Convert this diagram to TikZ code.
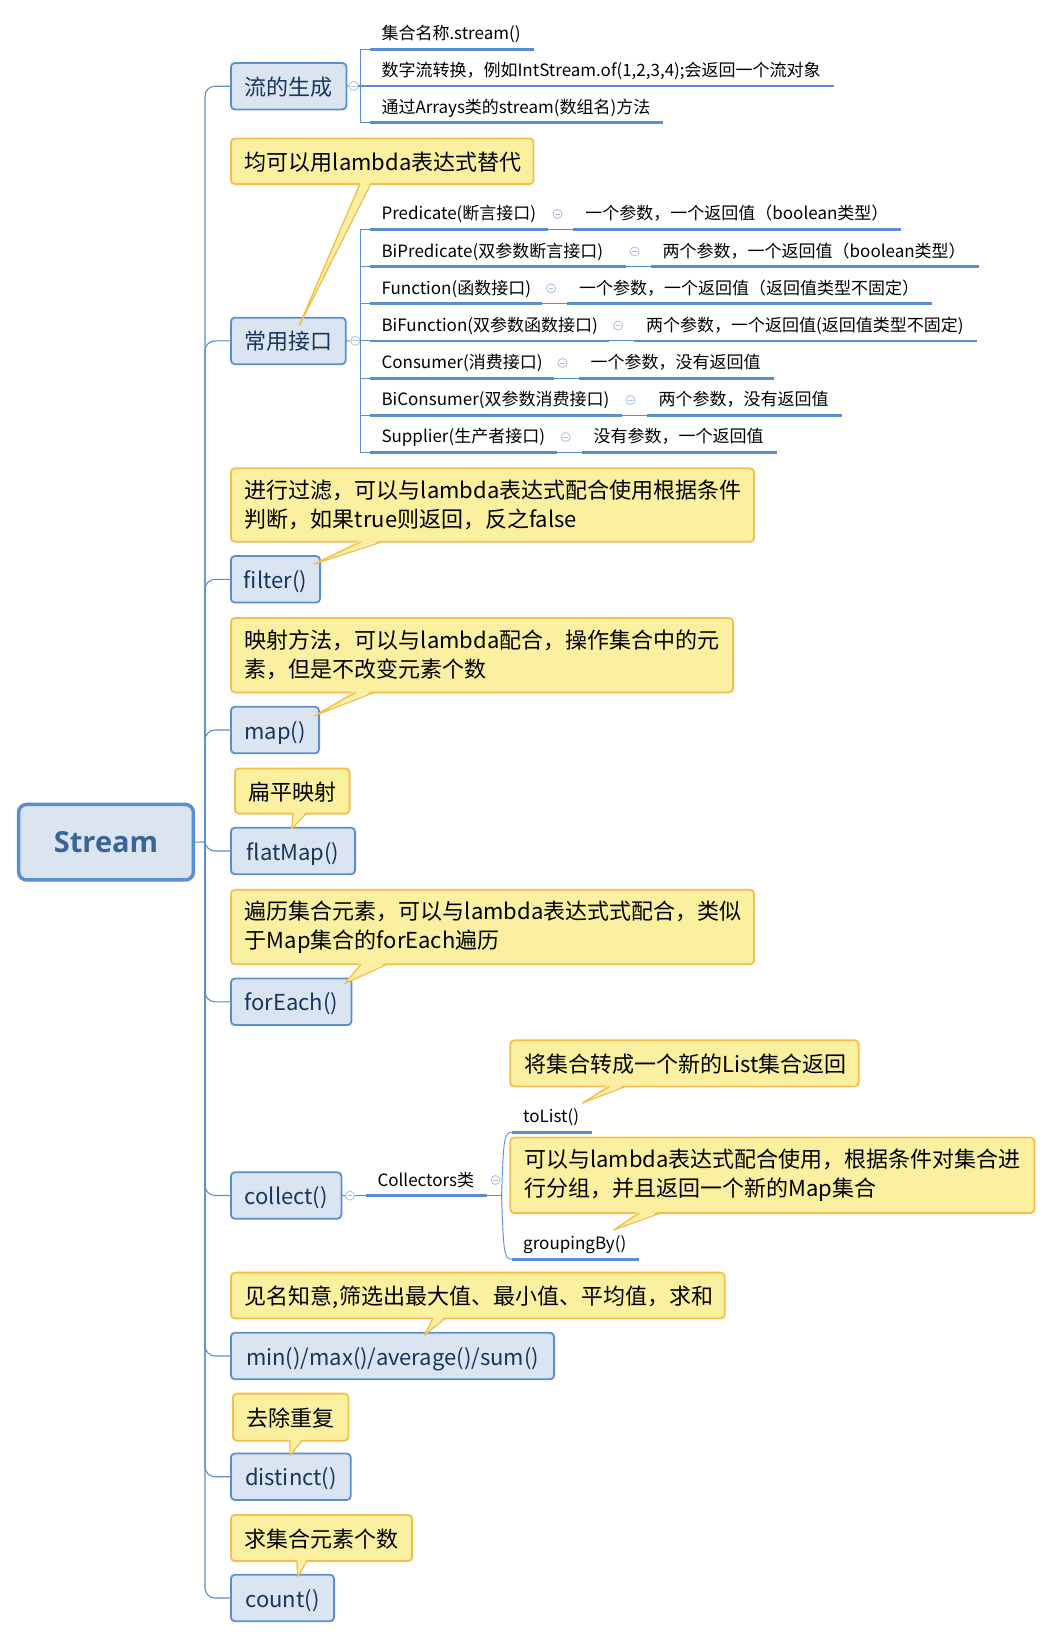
\documentclass[tikz,border=0pt]{standalone}
\usepackage{fontspec}
\setmainfont{Noto Sans CJK SC}
\newfontfamily\mmlat{Open Sans}
\usetikzlibrary{calc}
\definecolor{bxfill}{HTML}{DBE5F1}
\definecolor{bxdraw}{HTML}{5A8ED3}
\definecolor{bxtext}{HTML}{17365D}
\definecolor{cfill}{HTML}{FBF0A0}
\definecolor{cdraw}{HTML}{F2BE4E}
\definecolor{lncol}{HTML}{5A8ED3}
\definecolor{togcol}{HTML}{A9BDE3}
\definecolor{sttext}{HTML}{3A6396}
\newcommand\mmbig{\fontsize{22}{29.3}\selectfont}
\newcommand\mmsmall{\fontsize{17}{20}\selectfont}
\tikzset{
  box/.style={draw=bxdraw, fill=bxfill, line width=1.8pt, rounded corners=4pt, text=bxtext,
    font=\mmbig, anchor=west, minimum height=46.5pt, inner sep=0pt, outer sep=0pt,
    text height=20pt, text depth=2pt},
  callout/.style={draw=cdraw, fill=cfill, line width=1.8pt, rounded corners=4pt, text=black,
    font=\mmbig, anchor=north west, inner xsep=14pt, inner ysep=0pt, outer sep=0pt, align=left},
  onel/.style={text height=20pt, text depth=2pt},
  item/.style={anchor=base west, inner sep=0pt, outer sep=0pt, font=\mmsmall, text=black},
  uline/.style={draw=lncol, line width=2.6pt},
  conn/.style={draw=lncol, line width=1.1pt},
  tog/.style={circle, draw=togcol, fill=white, line width=0.8pt, minimum size=9pt, inner sep=0pt,
    path picture={\draw[togcol, line width=0.8pt] ([xshift=-2.3pt]path picture bounding box.center) -- ([xshift=2.3pt]path picture bounding box.center);}},
}
% one underlined item: name, underline start x, underline y, text
\newcommand\mmrow[4]{%
  \node[item] (#1) at (#2+11.5,#3-9.5) {#4};
  \coordinate (#1-s) at (#2,#3);
  \coordinate (#1-e) at ($(#1.base east)+(13,9.5)$);
  \draw[uline] (#1-s) -- (#1-e);
}
% interface row: name, underline y, toggle x, left text, right text
\newcommand\mmpair[5]{%
  \node[item] (#1a) at (381.5,#2-9.5) {#4};
  \coordinate (#1a-s) at (370,#2);
  \coordinate (#1a-e) at (#3-9,#2);
  \draw[uline] (#1a-s) -- (#1a-e);
  \node[tog] (#1t) at (#3,#2-15.3) {};
  \coordinate (#1b-s) at (#3+16,#2);
  \node[item] (#1b) at (#3+28,#2-9.5) {#5};
  \coordinate (#1b-e) at ($(#1b.base east)+(13,9.5)$);
  \draw[conn] (#1a-e) -- (#1b-s);
  \draw[uline] (#1b-s) -- (#1b-e);
}
% callout pointer: callout, base x1, base x2, target anchor, dx, dy
\newcommand\mmptr[6]{%
  \coordinate (#1-p1) at ($(#1.south west)+(#2,-2.2)$);
  \coordinate (#1-p2) at ($(#1.south west)+(#3,-2.2)$);
  \coordinate (#1-q1) at ($(#1.south west)+(#2,0)$);
  \coordinate (#1-q2) at ($(#1.south west)+(#3,0)$);
  \coordinate (#1-tip) at ($(#4)+(#5,#6)$);
  \fill[cfill] (#1-p1) -- (#1-tip) -- (#1-p2) -- cycle;
  \draw[cdraw, line width=1.3pt, line join=round, line cap=round] (#1-q1) -- (#1-tip) -- (#1-q2);
}
\begin{document}
\begin{tikzpicture}[x=1pt,y=-1pt]
\useasboundingbox (0,0) rectangle (1053,1639);

% root
\node[draw=bxdraw, fill=bxfill, line width=3.5pt, rounded corners=8pt, outer sep=0pt,
  minimum width=174.8pt, minimum height=75.5pt, text=sttext,
  font={\mmlat\bfseries\fontsize{29}{34}\selectfont}] (stream) at (106,842.2) {Stream};
\coordinate (hub) at (205,842);

% child boxes
\node[box, minimum width=115.5pt] (gen) at (230.9,86.2) {流的生成};
\node[box, minimum width=114.9pt] (iface) at (230.9,340.9) {常用接口};
\node[box, minimum width=89.2pt] (filter) at (230.9,579.3) {filter()};
\node[box, minimum width=88.2pt] (map) at (230.9,730) {map()};
\node[box, minimum width=124.2pt] (flatmap) at (230.9,851) {flatMap()};
\node[box, minimum width=120.6pt] (foreach) at (230.9,1001.8) {forEach()};
\node[box, minimum width=110.5pt] (collect) at (230.9,1195.5) {collect()};
\node[box, minimum width=323.2pt] (minb) at (230.9,1356) {min()/max()/average()/sum()};
\node[box, minimum width=119.9pt] (distinct) at (230.9,1476.7) {distinct()};
\node[box, minimum width=103.2pt] (count) at (230.9,1598) {count()};

% spine connectors
\draw[conn] (stream.east) -- (hub);
\foreach \c in {gen,iface,filter,map,flatmap,foreach,collect,minb,distinct,count}
  \draw[conn, rounded corners=10pt] (hub) |- (\c.west);

% stream generation items
\mmrow{g1}{370}{49.3}{集合名称.stream()}
\mmrow{g2}{370}{86}{数字流转换，例如IntStream.of(1,2,3,4);会返回一个流对象}
\mmrow{g3}{370}{122.7}{通过Arrays类的stream(数组名)方法}
\node[tog] (gent) at (353.5,86) {};
\coordinate (genb) at (360.7,86);
\draw[conn] (gen.east) -- (gent.west);
\draw[conn] (gent.east) -- (genb);
\draw[conn] (g1-s) -| (genb) |- (g3-s);
\draw[conn] (genb) -- (g2-s);

% interfaces
\mmpair{p1}{229.3}{557.4}{Predicate(断言接口)}{一个参数，一个返回值（boolean类型）}
\mmpair{p2}{266.7}{634.7}{BiPredicate(双参数断言接口)}{两个参数，一个返回值（boolean类型）}
\mmpair{p3}{303.6}{551.1}{Function(函数接口)}{一个参数，一个返回值（返回值类型不固定）}
\mmpair{p4}{340.8}{618}{BiFunction(双参数函数接口)}{两个参数，一个返回值(返回值类型不固定)}
\mmpair{p5}{378.3}{562.6}{Consumer(消费接口)}{一个参数，没有返回值}
\mmpair{p6}{415.3}{630.5}{BiConsumer(双参数消费接口)}{两个参数，没有返回值}
\mmpair{p7}{452.3}{565.7}{Supplier(生产者接口)}{没有参数，一个返回值}
\node[tog] (ifacet) at (355.3,340.8) {};
\coordinate (ifaceb) at (360.7,340.8);
\draw[conn] (iface.east) -- (ifacet.west);
\draw[conn] (ifacet.east) -- (ifaceb);
\draw[conn] (p1a-s) -| (ifaceb) |- (p7a-s);
\foreach \r in {p2,p3,p4,p5,p6} \draw[conn] (\r a-s) -| (ifaceb);

% collect
\node[tog] (colt) at (350,1195.6) {};
\draw[conn] (collect.east) -- (colt.west);
\mmrow{cs}{366}{1195.6}{Collectors类}
\draw[conn] (colt.east) -- (cs-s);
\node[tog] (cst) at ($(cs-e)+(8.4,-15.6)$) {};
\coordinate (csb) at ($(cs-e)+(14.4,0)$);
\draw[conn] (cs-e) -- (csb);
\mmrow{tl}{511.7}{1132.3}{toList()}
\mmrow{gb}{511.7}{1259.3}{groupingBy()}
\draw[lncol, line width=0.9pt] (csb) .. controls ($(csb)+(2,-55)$) and ($(tl-s)+(-8,0)$) .. (tl-s);
\draw[lncol, line width=0.9pt] (csb) .. controls ($(csb)+(2,55)$) and ($(gb-s)+(-8,0)$) .. (gb-s);

% callouts
\node[callout, onel, text width=274.6pt, minimum height=45.7pt] (cA) at (230.9,138.4) {\mbox{均可以用lambda表达式替代}};
\node[callout, text width=495.2pt, minimum height=73.5pt] (cB) at (230.9,468.3) {\mbox{进行过滤，可以与lambda表达式配合使用根据条件}\\\mbox{判断，如果true则返回，反之false}};
\node[callout, text width=474.2pt, minimum height=74.5pt] (cC) at (230.9,617.9) {\mbox{映射方法，可以与lambda配合，操作集合中的元}\\\mbox{素，但是不改变元素个数}};
\node[callout, onel, text width=86.7pt, minimum height=45.2pt] (cD) at (234.9,768.4) {\mbox{扁平映射}};
\node[callout, text width=495.2pt, minimum height=74.5pt] (cE) at (230.9,889.8) {\mbox{遍历集合元素，可以与lambda表达式式配合，类似}\\\mbox{于Map集合的forEach遍历}};
\node[callout, onel, text width=320.5pt, minimum height=46.2pt] (cF) at (510.2,1040.3) {\mbox{将集合转成一个新的List集合返回}};
\node[callout, text width=496.2pt, minimum height=75.7pt] (cG) at (510.2,1137.4) {\mbox{可以与lambda表达式配合使用，根据条件对集合进}\\\mbox{行分组，并且返回一个新的Map集合}};
\node[callout, onel, text width=465.9pt, minimum height=45.8pt] (cH) at (230.9,1272.6) {\mbox{见名知意,筛选出最大值、最小值、平均值，求和}};
\node[callout, onel, text width=87.5pt, minimum height=47.2pt] (cI) at (232.9,1393.6) {\mbox{去除重复}};
\node[callout, onel, text width=153.2pt, minimum height=46.2pt] (cJ) at (230.9,1514.9) {\mbox{求集合元素个数}};

% pointers
\mmptr{cA}{129}{139.8}{iface.north west}{68.3}{8}
\mmptr{cB}{130}{151}{filter.north west}{83}{8}
\mmptr{cC}{124.5}{143}{map.north west}{83.7}{9}
\mmptr{cD}{58}{71}{flatmap.north west}{61}{1}
\mmptr{cE}{130}{156}{foreach.north west}{114}{5}
\mmptr{cF}{99}{115}{tl.base west}{59.3}{-19.8}
\mmptr{cG}{129}{150}{gb.base west}{90.3}{-19.8}
\mmptr{cH}{202}{214}{minb.north west}{194}{2}
\mmptr{cI}{57}{69}{distinct.north west}{59}{2}
\mmptr{cJ}{66}{76}{count.north west}{67}{2}
\end{tikzpicture}
\end{document}
